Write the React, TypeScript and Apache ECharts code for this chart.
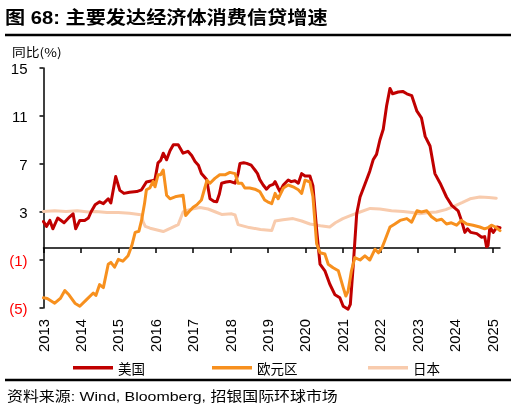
import React, { useEffect, useRef } from "react";
import * as echarts from "echarts";

// [year, % yoy]
const US: [number, number][] = [
    [2013.0, 2.2], [2013.08, 1.8], [2013.17, 2.3], [2013.25, 1.6], [2013.38, 2.5], [2013.55, 2.1],
    [2013.7, 2.6], [2013.79, 2.85], [2013.86, 1.6], [2013.97, 2.3], [2014.1, 2.3], [2014.2, 2.5],
    [2014.27, 3.0], [2014.38, 3.6], [2014.5, 3.85], [2014.6, 3.7], [2014.73, 4.1], [2014.8, 3.75],
    [2014.93, 5.95], [2015.04, 4.8], [2015.15, 4.55], [2015.3, 4.65], [2015.49, 4.7], [2015.62, 4.85],
    [2015.75, 5.5], [2015.9, 5.6], [2015.98, 5.7], [2016.06, 7.1], [2016.13, 7.3], [2016.2, 7.9],
    [2016.29, 7.35], [2016.38, 8.1], [2016.47, 8.6], [2016.6, 8.6], [2016.73, 7.9], [2016.86, 8.06],
    [2016.96, 7.7], [2017.05, 7.2], [2017.14, 6.9], [2017.22, 6.2], [2017.36, 5.7], [2017.45, 4.1],
    [2017.55, 3.9], [2017.63, 3.85], [2017.7, 4.5], [2017.76, 5.4], [2017.88, 5.5], [2017.98, 5.55],
    [2018.12, 5.4], [2018.2, 6.2], [2018.25, 7.05], [2018.35, 7.1], [2018.43, 7.05], [2018.55, 6.9],
    [2018.65, 6.5], [2018.72, 6.2], [2018.78, 5.7], [2018.87, 5.25], [2018.96, 4.9], [2019.05, 5.2],
    [2019.14, 5.3], [2019.19, 5.53], [2019.27, 5.0], [2019.32, 4.7], [2019.41, 5.25], [2019.54, 5.67],
    [2019.62, 5.53], [2019.72, 5.6], [2019.81, 5.4], [2019.9, 6.2], [2019.99, 6.0], [2020.12, 6.0],
    [2020.2, 5.2], [2020.3, 1.5], [2020.39, -1.35], [2020.52, -1.9], [2020.65, -3.0], [2020.79, -3.9],
    [2020.92, -4.15], [2021.01, -4.85], [2021.14, -5.1], [2021.2, -4.7], [2021.28, -1.35], [2021.37, 2.85],
    [2021.46, 4.25], [2021.63, 5.65], [2021.72, 6.4], [2021.81, 7.35], [2021.9, 7.8], [2021.99, 9.0],
    [2022.08, 9.9], [2022.17, 11.85], [2022.26, 13.3], [2022.33, 12.85], [2022.48, 13.0], [2022.6, 13.05],
    [2022.71, 12.85], [2022.84, 12.7], [2022.98, 11.4], [2023.1, 10.85], [2023.2, 9.3], [2023.33, 8.5],
    [2023.46, 6.2], [2023.6, 5.4], [2023.77, 4.25], [2023.91, 3.55], [2024.08, 3.1], [2024.17, 2.3],
    [2024.26, 1.3], [2024.33, 1.6], [2024.42, 1.3], [2024.58, 1.2], [2024.71, 0.9], [2024.79, 0.95],
    [2024.84, 0.1], [2024.88, 0.2], [2024.93, 1.75], [2025.02, 1.3], [2025.12, 1.75], [2025.2, 1.7],
];

const EURO: [number, number][] = [
    [2013.0, -4.15], [2013.1, -4.2], [2013.3, -4.6], [2013.45, -4.2], [2013.57, -3.55], [2013.68, -3.9],
    [2013.84, -4.6], [2013.97, -4.85], [2014.15, -4.3], [2014.33, -3.75], [2014.4, -3.95], [2014.5, -3.05],
    [2014.6, -3.3], [2014.73, -1.35], [2014.8, -1.2], [2014.9, -1.6], [2015.0, -0.95], [2015.12, -1.1],
    [2015.26, -0.65], [2015.36, 0.2], [2015.45, 1.3], [2015.55, 1.4], [2015.62, 2.3], [2015.7, 3.7],
    [2015.75, 4.85], [2015.84, 5.0], [2015.93, 5.55], [2015.98, 5.1], [2016.06, 6.1], [2016.13, 6.1],
    [2016.2, 6.5], [2016.29, 4.4], [2016.38, 4.1], [2016.55, 4.3], [2016.73, 4.4], [2016.8, 2.7],
    [2016.88, 3.0], [2017.0, 3.4], [2017.1, 3.6], [2017.22, 4.0], [2017.31, 5.0], [2017.37, 5.65],
    [2017.45, 5.4], [2017.58, 5.8], [2017.71, 6.1], [2017.85, 6.1], [2017.98, 6.3], [2018.12, 6.2],
    [2018.2, 5.4], [2018.3, 5.4], [2018.38, 5.0], [2018.51, 5.0], [2018.65, 4.9], [2018.78, 4.7],
    [2018.91, 4.0], [2018.99, 3.85], [2019.1, 3.7], [2019.19, 4.55], [2019.27, 4.1], [2019.41, 5.0],
    [2019.54, 5.25], [2019.67, 5.1], [2019.81, 4.85], [2019.9, 4.55], [2019.99, 5.65], [2020.12, 5.5],
    [2020.2, 4.3], [2020.3, 0.35], [2020.39, -0.4], [2020.52, -0.5], [2020.61, -1.35], [2020.74, -1.65],
    [2020.88, -1.9], [2021.01, -3.3], [2021.08, -4.0], [2021.14, -3.6], [2021.23, -1.9], [2021.32, -0.8],
    [2021.46, -1.0], [2021.59, -0.65], [2021.72, -1.0], [2021.86, -0.1], [2021.95, -0.4], [2022.05, 0.05],
    [2022.12, 0.6], [2022.26, 1.75], [2022.39, 2.0], [2022.53, 2.3], [2022.71, 2.45], [2022.84, 2.15],
    [2022.98, 3.1], [2023.1, 3.0], [2023.24, 3.1], [2023.37, 2.6], [2023.51, 2.3], [2023.64, 2.4],
    [2023.77, 2.0], [2023.9, 2.1], [2024.04, 1.9], [2024.17, 2.3], [2024.31, 2.0], [2024.48, 1.9],
    [2024.66, 1.75], [2024.79, 1.6], [2024.88, 1.7], [2024.97, 1.9], [2025.08, 1.75], [2025.2, 1.45],
];

const JAPAN: [number, number][] = [
    [2013.0, 3.05], [2013.3, 3.1], [2013.6, 3.05], [2013.9, 3.1], [2014.2, 3.0], [2014.4, 3.05],
    [2014.7, 2.95], [2015.0, 2.95], [2015.3, 2.9], [2015.55, 2.8], [2015.62, 2.75], [2015.66, 2.2],
    [2015.72, 1.8], [2015.85, 1.65], [2016.2, 1.37], [2016.4, 1.65], [2016.6, 1.95], [2016.73, 3.0],
    [2016.9, 3.2], [2017.18, 3.37], [2017.4, 3.25], [2017.6, 3.0], [2017.76, 2.8], [2018.03, 2.85],
    [2018.12, 2.75], [2018.2, 1.95], [2018.5, 1.7], [2018.8, 1.55], [2019.1, 1.46], [2019.19, 2.25],
    [2019.4, 2.35], [2019.67, 2.45], [2019.9, 2.25], [2020.12, 2.0], [2020.4, 1.85], [2020.65, 1.75],
    [2020.8, 2.1], [2021.0, 2.45], [2021.2, 2.7], [2021.46, 3.0], [2021.73, 3.3], [2021.99, 3.25],
    [2022.3, 3.1], [2022.61, 3.05], [2022.85, 2.95], [2023.06, 2.85], [2023.3, 2.95], [2023.5, 3.0],
    [2023.75, 3.2], [2023.95, 3.45], [2024.2, 3.8], [2024.4, 4.1], [2024.66, 4.25], [2024.9, 4.2],
    [2025.1, 4.15],
];

const YEARS = [2013, 2014, 2015, 2016, 2017, 2018, 2019, 2020, 2021, 2022, 2023, 2024, 2025];
const Y_TICKS = [-5, -1, 3, 7, 11, 15];

const FONT = '"Liberation Sans", "Noto Sans CJK SC", sans-serif';
const CJK = '"Noto Sans CJK SC", "Liberation Sans", sans-serif';

const legendItem = (name: string, left: number) => ({
    data: [name],
    left,
    top: 361,
    padding: 0,
    icon: "rect",
    itemWidth: 40,
    itemHeight: 3.5,
    itemGap: 5,
    selectedMode: false,
    textStyle: { fontSize: 13.5, fontFamily: CJK, color: "#000" },
});

export default function App() {
    const ref = useRef<HTMLDivElement | null>(null);

    useEffect(() => {
        if (!ref.current) return;
        const inst = echarts.init(ref.current, null, { renderer: "svg" });

        const lineSeries = (name: string, data: [number, number][], color: string, z: number) => ({
            name,
            type: "line",
            data,
            xAxisIndex: 0,
            symbol: "none",
            clip: false,
            z,
            lineStyle: { color, width: 3, join: "round", cap: "round" },
            itemStyle: { color },
        });

        inst.setOption({
            animation: false,
            grid: { left: 43.5, right: 16, top: 68, bottom: 105 },
            legend: [legendItem("美国", 73), legendItem("欧元区", 212), legendItem("日本", 368)],
            xAxis: [
                {
                    type: "value",
                    min: 2013,
                    max: 2025.2,
                    axisLine: { onZero: true, lineStyle: { color: "#000", width: 1.5 } },
                    axisTick: { show: true, length: 5, customValues: YEARS, lineStyle: { color: "#000", width: 1.5 } },
                    axisLabel: { show: false },
                    splitLine: { show: false },
                },
                {
                    type: "value",
                    min: 2013,
                    max: 2025.2,
                    position: "bottom",
                    axisLine: { show: false, onZero: false },
                    axisTick: { show: false },
                    axisLabel: {
                        show: true,
                        rotate: 90,
                        margin: 11,
                        fontSize: 14.8,
                        fontFamily: FONT,
                        color: "#000",
                        customValues: YEARS,
                        formatter: (v: number) => String(v),
                    },
                    splitLine: { show: false },
                },
            ],
            yAxis: {
                type: "value",
                min: -5,
                max: 15,
                axisLine: { show: true, onZero: false, lineStyle: { color: "#000", width: 1.5 } },
                axisTick: { show: true, length: 4, customValues: Y_TICKS, lineStyle: { color: "#000", width: 1.5 } },
                axisLabel: {
                    customValues: Y_TICKS,
                    fontSize: 15,
                    fontFamily: FONT,
                    margin: 16,
                    color: (v: any) => (Number(v) < 0 ? "#FF0000" : "#000"),
                    formatter: (v: number) => (v < 0 ? `(${-v})` : String(v)),
                },
                splitLine: { show: false },
            },
            series: [
                lineSeries("美国", US, "#C00000", 3),
                lineSeries("欧元区", EURO, "#F7901E", 4),
                lineSeries("日本", JAPAN, "#F8CBAD", 2),
            ],
            graphic: [
                {
                    type: "text",
                    x: 5,
                    y: 18,
                    scaleX: 1.12,
                    style: {
                        text: "图 68: 主要发达经济体消费信贷增速",
                        fontSize: 18,
                        fontWeight: "bold",
                        fontFamily: FONT,
                        fill: "#000",
                        verticalAlign: "middle",
                    },
                },
                { type: "line", shape: { x1: 5, y1: 35, x2: 511, y2: 35 }, style: { stroke: "#000", lineWidth: 2.5 } },
                {
                    type: "text",
                    x: 12,
                    y: 52,
                    scaleX: 1.15,
                    style: { text: "同比(%)", fontSize: 12, fontFamily: CJK, fill: "#000", verticalAlign: "middle" },
                },
                { type: "line", shape: { x1: 5, y1: 380, x2: 511, y2: 380 }, style: { stroke: "#000", lineWidth: 2.5 } },
                {
                    type: "text",
                    x: 7,
                    y: 396,
                    scaleX: 1.18,
                    style: {
                        text: "资料来源: Wind, Bloomberg, 招银国际环球市场",
                        fontSize: 13.5,
                        fontFamily: FONT,
                        fill: "#000",
                        verticalAlign: "middle",
                    },
                },
            ],
        });

        return () => {
            inst.dispose();
        };
    }, []);

    return <div ref={ref} style={{ position: "fixed", left: 0, top: 0, width: 516, height: 413 }} />;
}
